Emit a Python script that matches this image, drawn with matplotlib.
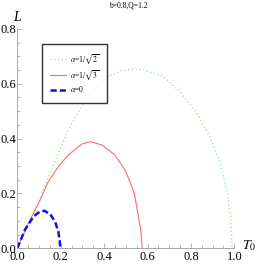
import matplotlib.pyplot as plt
from matplotlib.ticker import MultipleLocator

# curve samples
t_green = [0.0, 0.051, 0.105, 0.143, 0.189, 0.235, 0.297, 0.358, 0.419, 0.481, 0.535,
           0.581, 0.673, 0.75, 0.827, 0.888, 0.934, 0.965, 0.983, 0.99]
l_green = [0.0, 0.091, 0.176, 0.261, 0.347, 0.432, 0.517, 0.584, 0.626, 0.648, 0.654,
           0.651, 0.626, 0.571, 0.493, 0.407, 0.31, 0.213, 0.115, 0.0]
t_red = [0.0, 0.051, 0.105, 0.143, 0.189, 0.235, 0.297, 0.335, 0.389, 0.45, 0.496,
         0.519, 0.539, 0.55, 0.569, 0.576]
l_red = [0.0, 0.091, 0.176, 0.243, 0.298, 0.34, 0.38, 0.389, 0.377, 0.34, 0.286,
         0.243, 0.2, 0.152, 0.067, 0.0]
t_blue = [0.0, 0.035, 0.074, 0.097, 0.124, 0.151, 0.174, 0.189, 0.195, 0.198]
l_blue = [0.0, 0.067, 0.115, 0.13, 0.137, 0.125, 0.097, 0.061, 0.03, 0.0]

labels = [r'$\alpha$=1/$\sqrt{2}$', r'$\alpha$=1/$\sqrt{3}$', r'$\alpha$=0']

plt.rcParams['font.family'] = 'Liberation Serif'
plt.rcParams['mathtext.fontset'] = 'stix'

fig = plt.figure(figsize=(2.56, 2.65), dpi=100)
ax = fig.add_axes([0.0676, 0.063, 0.8477, 0.828])

ax.plot(t_green, l_green, color='#8ee68e', lw=0.9, ls=(0, (1, 2)), label=labels[0])
ax.plot(t_red, l_red, color='#ff6b6b', lw=0.8, label=labels[1])
ax.plot(t_blue, l_blue, color='#0a14e6', lw=1.8, ls=(0, (2.5, 1.2)), label=labels[2])

ax.set_xlim(0, 1.0)
ax.set_ylim(0, 0.8)
ax.xaxis.set_major_locator(MultipleLocator(0.2))
ax.xaxis.set_minor_locator(MultipleLocator(0.05))
ax.yaxis.set_major_locator(MultipleLocator(0.2))
ax.yaxis.set_minor_locator(MultipleLocator(0.05))
ax.xaxis.set_major_formatter(lambda v, p: '%.1f' % v)
ax.yaxis.set_major_formatter(lambda v, p: '%.1f' % v)
ax.tick_params(direction='in', which='major', length=3.5, width=0.5, color='#999999', labelsize=9, pad=1)
ax.tick_params(axis='x', which='major', pad=2)
ax.tick_params(direction='in', which='minor', length=2, width=0.5, color='#999999')
for s in ['top', 'right']:
    ax.spines[s].set_visible(False)
for s in ['left', 'bottom']:
    ax.spines[s].set_color('#999999')
    ax.spines[s].set_linewidth(0.6)
ax.patch.set_alpha(0)

fig.text(0.5, 0.978, 'b=0.8,Q=1.2', ha='center', va='center', fontsize=5.5)
fig.text(0.068, 0.934, 'L', ha='center', va='center', fontsize=10, style='italic')
fig.text(0.975, 0.072, r'$T_0$', ha='center', va='center', fontsize=10)

leg = ax.legend(loc='upper left', bbox_to_anchor=(42 / 256, 1 - 44 / 265),
                bbox_transform=fig.transFigure, fontsize=5.5,
                frameon=True, fancybox=False, edgecolor='black', handlelength=2.0,
                borderpad=1.1, labelspacing=0.3, handletextpad=0.5, borderaxespad=0)
leg.get_frame().set_linewidth(1.0)

fig.savefig('out.png', dpi=100)
